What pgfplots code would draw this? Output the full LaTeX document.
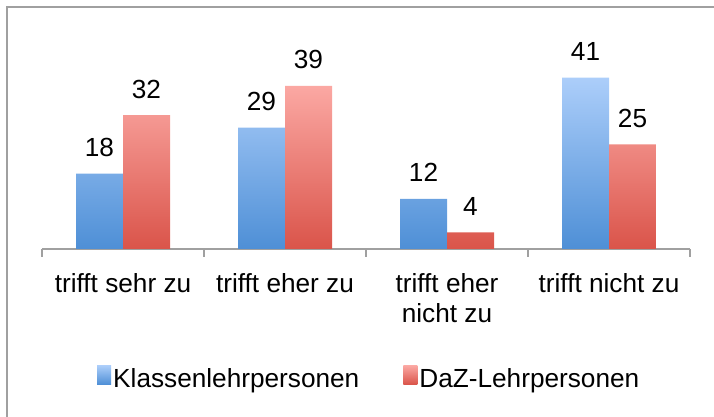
\documentclass[border=0pt]{standalone}
\usepackage{fontspec}
\setmainfont{Liberation Sans}
\usepackage{pgfplots}
\pgfplotsset{compat=1.18}
\definecolor{blueTop}{RGB}{172,206,250}
\definecolor{blueBot}{RGB}{78,143,214}
\definecolor{redTop}{RGB}{251,168,163}
\definecolor{redBot}{RGB}{218,84,74}
\definecolor{framegray}{RGB}{160,160,160}
\newcommand{\lbl}{\fontsize{26.2}{30}\selectfont}

\begin{document}
\begin{tikzpicture}
  \useasboundingbox (0,0) rectangle (714pt,417pt);
  \draw[framegray, line width=2pt] (7pt,0) -- (7pt,410pt) -- (714pt,410pt);
  \begin{axis}[
      at={(42pt,168pt)}, anchor=south west,
      scale only axis,
      width=648pt, height=230pt,
      ybar=0pt, bar width=47pt,
      xmin=-0.5, xmax=3.5, ymin=0, ymax=55,
      axis y line=none, axis x line*=bottom,
      x axis line style={draw=framegray, line width=2pt},
      xtick={0,1,2,3},
      xticklabels={trifft sehr zu, trifft eher zu, {trifft eher\\nicht zu}, trifft nicht zu},
      major x tick style={draw=none},
      minor xtick={-0.5,0.5,1.5,2.5,3.5},
      minor tick length=8pt, tick align=outside,
      minor x tick style={draw=framegray, line width=2pt},
      xticklabel style={font=\lbl, align=center, anchor=north, inner sep=0pt, yshift=-20pt},
      nodes near coords,
      nodes near coords style={font=\lbl, anchor=base, yshift=17pt, /pgf/number format/assume math mode=true},
      legend style={at={(0.505,0)}, anchor=center, yshift=-129pt, draw=none, font=\lbl,
        legend columns=2, /tikz/every even column/.append style={column sep=42pt}},
      legend cell align=left,
      legend image code/.code={\path[#1,draw=none] (-3pt,-6pt) rectangle (11pt,13pt);}
    ]
    \addplot[draw=none, top color=blueTop, bottom color=blueBot] coordinates {(0,18) (1,29) (2,12) (3,41)};
    \addplot[draw=none, top color=redTop, bottom color=redBot] coordinates {(0,32) (1,39) (2,4) (3,25)};
    \legend{Klassenlehrpersonen, DaZ-Lehrpersonen}
  \end{axis}
\end{tikzpicture}
\end{document}
